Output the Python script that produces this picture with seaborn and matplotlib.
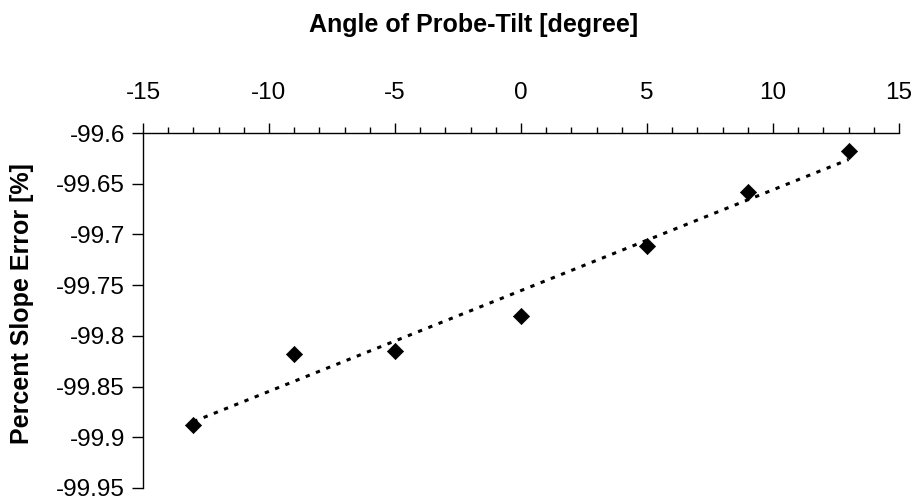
import matplotlib
matplotlib.use("Agg")
import matplotlib.pyplot as plt
import seaborn as sns
import pandas as pd
from matplotlib.ticker import MultipleLocator

angles = [-13, -9, -5, 0, 5, 9, 13]
slope_error = [-99.888, -99.8175, -99.815, -99.78, -99.711, -99.658, -99.618]
x_ticks = [-15, -10, -5, 0, 5, 10, 15]
y_ticks = [-99.6, -99.65, -99.7, -99.75, -99.8, -99.85, -99.9, -99.95]
y_tick_labels = ["-99.6", "-99.65", "-99.7", "-99.75", "-99.8", "-99.85", "-99.9", "-99.95"]

sns.set_theme(style="white")
plt.rcParams["font.family"] = ["Liberation Sans", "DejaVu Sans"]
plt.rcParams.update({"text.color": "black", "axes.labelcolor": "black",
                     "xtick.color": "black", "ytick.color": "black"})

df = pd.DataFrame({"angle": angles, "err": slope_error})

top_px, bot_px = 133, 488
fig = plt.figure(figsize=(9.19, 5.01), dpi=100)
ax = fig.add_axes([143 / 919, 1 - bot_px / 501, (899 - 143) / 919, (bot_px - top_px) / 501])

sns.regplot(data=df, x="angle", y="err", ax=ax, ci=None,
            marker="D", color="black",
            scatter_kws={"s": 68, "alpha": 1.0, "edgecolors": "black",
                         "linewidths": 0.5, "zorder": 3},
            line_kws={"linestyle": (0, (1.4, 2.2)), "linewidth": 2.2, "color": "black"})

ax.set_xlim(-15, 15)
ax.set_ylim(-99.95, -99.6)
ax.xaxis.tick_top()
ax.xaxis.set_label_position("top")
ax.set_xticks(x_ticks)
ax.set_xticklabels([str(t) for t in x_ticks])
ax.xaxis.set_minor_locator(MultipleLocator(1))
ax.set_yticks(y_ticks)
ax.set_yticklabels(y_tick_labels)

for s in ["right", "bottom"]:
    ax.spines[s].set_visible(False)
for s in ["left", "top"]:
    ax.spines[s].set_color("black")
    ax.spines[s].set_linewidth(1.0)

ax.tick_params(axis="x", which="major", direction="out", length=7, width=1,
               color="black", labelcolor="black", labelsize=17.5, pad=14, top=True, bottom=False)
ax.tick_params(axis="x", which="minor", direction="out", length=4, width=1,
               color="black", top=True, bottom=False)
ax.tick_params(axis="y", which="major", direction="out", length=8, width=1,
               color="black", labelcolor="black", labelsize=17.5, pad=5, left=True)

h = bot_px - top_px
ax.set_xlabel("Angle of Probe-Tilt [degree]", fontsize=18, fontweight="bold", color="black")
ax.xaxis.label.set_verticalalignment("center")
ax.xaxis.label.set_horizontalalignment("center")
ax.xaxis.set_label_coords((474 - 143) / 756, 1 + (top_px - 25) / h)

ax.set_ylabel("Percent Slope Error [%]", fontsize=18, fontweight="bold", color="black")
ax.yaxis.label.set_verticalalignment("center")
ax.yaxis.label.set_horizontalalignment("center")
ax.yaxis.set_label_coords((22 - 143) / 756, (bot_px - 304) / h)

fig.savefig("out.png", dpi=100, facecolor="white")
